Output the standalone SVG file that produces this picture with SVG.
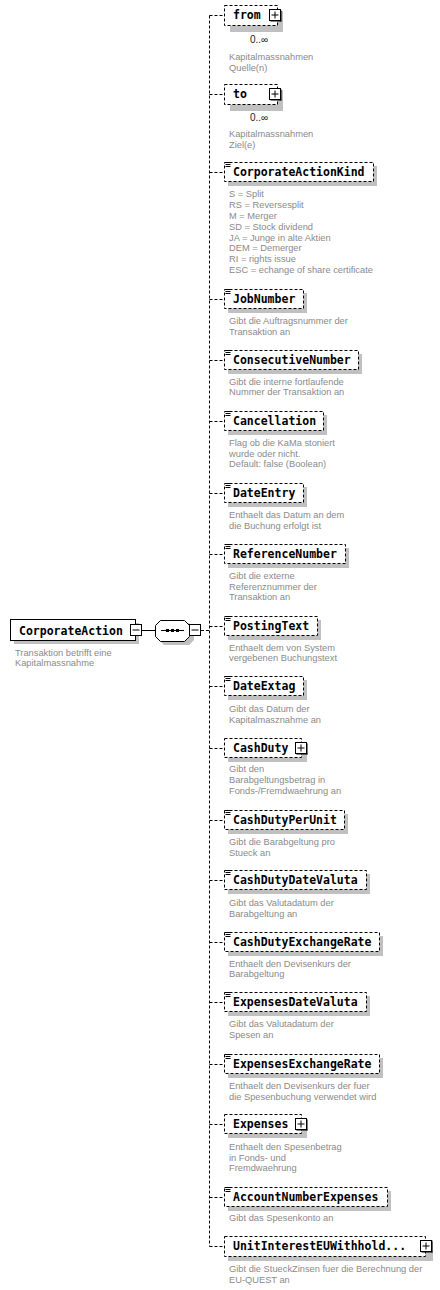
<svg xmlns="http://www.w3.org/2000/svg" width="440" height="1290" viewBox="0 0 440 1290">
<style>
.bg{fill:#ffffff}
.box{fill:#ffffff;stroke:#000;stroke-width:1;stroke-dasharray:3,2}
.sbox{fill:#ffffff;stroke:#000;stroke-width:1}
.sh{fill:#c0c0c0}
.name{font-family:"DejaVu Sans Mono",monospace;font-weight:bold;font-size:11.5px;fill:#000}
.desc{font-family:"Liberation Sans",Arial,sans-serif;font-size:9.3px;fill:#8a8a8a}
.mult{font-family:"Liberation Sans",Arial,sans-serif;font-size:10px;fill:#222}
.conn{fill:none;stroke:#000;stroke-width:1;stroke-dasharray:3,2}
.solid{fill:none;stroke:#000;stroke-width:1}
.ic{stroke:#000;stroke-width:1}
.pb{fill:#fff;stroke:#000;stroke-width:1}
</style>
<defs>
<g id="icon"><path class="ic" d="M1.5,1.5h6M1.5,3.5h5M1.5,5.5h5"/></g>
<g id="plus"><rect class="pb" x="0.5" y="0.5" width="11" height="11"/><path class="ic" d="M12,1.5v11M1.5,12h11" /><path class="ic" d="M2.5,6h7M6,2.5v7"/></g>
<g id="minus"><rect class="pb" x="0.5" y="0.5" width="11" height="11"/><path class="ic" d="M2.5,6h7"/></g>
</defs>
<rect class="bg" x="0" y="0" width="440" height="1290"/>

<g id="connectors">
<path class="solid" d="M142,630.5H155M190,630.5"/>
<path class="conn" d="M201,630.5H209.5"/>
<path class="conn" d="M209.5,15.5V1246.5"/>
<path class="conn" d="M209.5,15.5H224M209.5,94.5H224M209.5,172.5H224M209.5,299.5H224M209.5,360.5H224M209.5,421.5H224M209.5,493.5H224M209.5,554.5H224M209.5,626.5H224M209.5,686.5H224M209.5,748.5H224M209.5,820.5H224M209.5,880.5H224M209.5,942.5H224M209.5,1002.5H224M209.5,1064.5H224M209.5,1124.5H224M209.5,1197.5H224M209.5,1246.5H224"/>
</g>

<g id="CorporateAction">
<rect class="sh" x="14" y="623" width="125" height="21"/>
<rect class="sbox" x="10.5" y="619.5" width="125" height="21"/>
<text class="name" x="19" y="635">CorporateAction</text>
<use href="#minus" x="130" y="624"/>
<text class="desc" x="15" y="656">Transaktion betrifft eine</text>
<text class="desc" x="15" y="666">Kapitalmassnahme</text>
</g>

<g id="sequence">
<path class="sh" d="M164,623H189L194,628V640L189,645H164L159,640V628Z"/>
<path class="sbox" d="M160.5,620.5H184.5L189.5,625.5V636.5L184.5,641.5H160.5L155.5,636.5V625.5Z"/>
<path class="solid" d="M161,630.5H184"/>
<rect x="166" y="629" width="3" height="3" fill="#000"/>
<rect x="171" y="629" width="3" height="3" fill="#000"/>
<rect x="176" y="629" width="3" height="3" fill="#000"/>
<use href="#minus" x="189" y="624"/>
</g>

<g id="from">
<rect class="sh" x="230" y="11" width="53" height="21"/>
<rect class="box" x="224.5" y="5.5" width="53" height="20"/>
<text class="name" x="233" y="19">from</text>
<use href="#plus" x="269" y="9"/>
<text class="mult" x="250" y="43">0..∞</text>
<text class="desc" x="229" y="60">Kapitalmassnahmen</text>
<text class="desc" x="229" y="71">Quelle(n)</text>
</g>

<g id="to">
<rect class="sh" x="230" y="90" width="53" height="21"/>
<rect class="box" x="224.5" y="84.5" width="53" height="20"/>
<text class="name" x="233" y="98">to</text>
<use href="#plus" x="269" y="88"/>
<text class="mult" x="250" y="121">0..∞</text>
<text class="desc" x="229" y="137">Kapitalmassnahmen</text>
<text class="desc" x="229" y="148">Ziel(e)</text>
</g>

<g id="CorporateActionKind">
<rect class="sh" x="228" y="166" width="149" height="20"/>
<rect class="box" x="224.5" y="162.5" width="149" height="19"/>
<use href="#icon" x="224" y="161"/>
<text class="name" x="233" y="176">CorporateActionKind</text>
<text class="desc" x="229" y="197">S = Split</text>
<text class="desc" x="229" y="208">RS = Reversesplit</text>
<text class="desc" x="229" y="219">M = Merger</text>
<text class="desc" x="229" y="230">SD = Stock dividend</text>
<text class="desc" x="229" y="241">JA = Junge in alte Aktien</text>
<text class="desc" x="229" y="251">DEM = Demerger</text>
<text class="desc" x="229" y="262">RI = rights issue</text>
<text class="desc" x="229" y="273">ESC = echange of share certificate</text>
</g>

<g id="JobNumber">
<rect class="sh" x="228" y="293" width="79" height="20"/>
<rect class="box" x="224.5" y="289.5" width="79" height="19"/>
<use href="#icon" x="224" y="288"/>
<text class="name" x="233" y="303">JobNumber</text>
<text class="desc" x="229" y="324">Gibt die Auftragsnummer der</text>
<text class="desc" x="229" y="335">Transaktion an</text>
</g>

<g id="ConsecutiveNumber">
<rect class="sh" x="228" y="354" width="134" height="20"/>
<rect class="box" x="224.5" y="350.5" width="134" height="19"/>
<use href="#icon" x="224" y="349"/>
<text class="name" x="233" y="364">ConsecutiveNumber</text>
<text class="desc" x="229" y="385">Gibt die interne fortlaufende</text>
<text class="desc" x="229" y="395">Nummer der Transaktion an</text>
</g>

<g id="Cancellation">
<rect class="sh" x="228" y="415" width="99" height="20"/>
<rect class="box" x="224.5" y="411.5" width="99" height="19"/>
<use href="#icon" x="224" y="410"/>
<text class="name" x="233" y="425">Cancellation</text>
<text class="desc" x="229" y="446">Flag ob die KaMa stoniert</text>
<text class="desc" x="229" y="457">wurde oder nicht.</text>
<text class="desc" x="229" y="467">Default: false (Boolean)</text>
</g>

<g id="DateEntry">
<rect class="sh" x="228" y="487" width="79" height="20"/>
<rect class="box" x="224.5" y="483.5" width="79" height="19"/>
<use href="#icon" x="224" y="482"/>
<text class="name" x="233" y="497">DateEntry</text>
<text class="desc" x="229" y="518">Enthaelt das Datum an dem</text>
<text class="desc" x="229" y="529">die Buchung erfolgt ist</text>
</g>

<g id="ReferenceNumber">
<rect class="sh" x="228" y="548" width="121" height="20"/>
<rect class="box" x="224.5" y="544.5" width="121" height="19"/>
<use href="#icon" x="224" y="543"/>
<text class="name" x="233" y="558">ReferenceNumber</text>
<text class="desc" x="229" y="579">Gibt die externe</text>
<text class="desc" x="229" y="590">Referenznummer der</text>
<text class="desc" x="229" y="600">Transaktion an</text>
</g>

<g id="PostingText">
<rect class="sh" x="228" y="620" width="93" height="20"/>
<rect class="box" x="224.5" y="616.5" width="93" height="19"/>
<use href="#icon" x="224" y="615"/>
<text class="name" x="233" y="630">PostingText</text>
<text class="desc" x="229" y="651">Enthaelt dem von System</text>
<text class="desc" x="229" y="661">vergebenen Buchungstext</text>
</g>

<g id="DateExtag">
<rect class="sh" x="228" y="680" width="79" height="20"/>
<rect class="box" x="224.5" y="676.5" width="79" height="19"/>
<use href="#icon" x="224" y="675"/>
<text class="name" x="233" y="690">DateExtag</text>
<text class="desc" x="229" y="712">Gibt das Datum der</text>
<text class="desc" x="229" y="723">Kapitalmasznahme an</text>
</g>

<g id="CashDuty">
<rect class="sh" x="228" y="742" width="79" height="20"/>
<rect class="box" x="224.5" y="738.5" width="77" height="19"/>
<text class="name" x="233" y="752">CashDuty</text>
<use href="#plus" x="295" y="742"/>
<text class="desc" x="229" y="772">Gibt den</text>
<text class="desc" x="229" y="783">Barabgeltungsbetrag in</text>
<text class="desc" x="229" y="794">Fonds-/Fremdwaehrung an</text>
</g>

<g id="CashDutyPerUnit">
<rect class="sh" x="228" y="814" width="120" height="20"/>
<rect class="box" x="224.5" y="810.5" width="120" height="19"/>
<use href="#icon" x="224" y="809"/>
<text class="name" x="233" y="824">CashDutyPerUnit</text>
<text class="desc" x="229" y="845">Gibt die Barabgeltung pro</text>
<text class="desc" x="229" y="856">Stueck an</text>
</g>

<g id="CashDutyDateValuta">
<rect class="sh" x="228" y="874" width="142" height="20"/>
<rect class="box" x="224.5" y="870.5" width="142" height="19"/>
<use href="#icon" x="224" y="869"/>
<text class="name" x="233" y="884">CashDutyDateValuta</text>
<text class="desc" x="229" y="906">Gibt das Valutadatum der</text>
<text class="desc" x="229" y="917">Barabgeltung an</text>
</g>

<g id="CashDutyExchangeRate">
<rect class="sh" x="228" y="936" width="155" height="20"/>
<rect class="box" x="224.5" y="932.5" width="155" height="19"/>
<use href="#icon" x="224" y="931"/>
<text class="name" x="233" y="946">CashDutyExchangeRate</text>
<text class="desc" x="229" y="967">Enthaelt den Devisenkurs der</text>
<text class="desc" x="229" y="977">Barabgeltung</text>
</g>

<g id="ExpensesDateValuta">
<rect class="sh" x="228" y="996" width="142" height="20"/>
<rect class="box" x="224.5" y="992.5" width="142" height="19"/>
<use href="#icon" x="224" y="991"/>
<text class="name" x="233" y="1006">ExpensesDateValuta</text>
<text class="desc" x="229" y="1027">Gibt das Valutadatum der</text>
<text class="desc" x="229" y="1038">Spesen an</text>
</g>

<g id="ExpensesExchangeRate">
<rect class="sh" x="228" y="1058" width="155" height="20"/>
<rect class="box" x="224.5" y="1054.5" width="155" height="19"/>
<use href="#icon" x="224" y="1053"/>
<text class="name" x="233" y="1068">ExpensesExchangeRate</text>
<text class="desc" x="229" y="1089">Enthaelt den Devisenkurs der fuer</text>
<text class="desc" x="229" y="1100">die Spesenbuchung verwendet wird</text>
</g>

<g id="Expenses">
<rect class="sh" x="228" y="1118" width="79" height="20"/>
<rect class="box" x="224.5" y="1114.5" width="77" height="19"/>
<text class="name" x="233" y="1128">Expenses</text>
<use href="#plus" x="295" y="1118"/>
<text class="desc" x="229" y="1150">Enthaelt den Spesenbetrag</text>
<text class="desc" x="229" y="1161">in Fonds- und</text>
<text class="desc" x="229" y="1171">Fremdwaehrung</text>
</g>

<g id="AccountNumberExpenses">
<rect class="sh" x="228" y="1191" width="163" height="20"/>
<rect class="box" x="224.5" y="1187.5" width="163" height="19"/>
<use href="#icon" x="224" y="1186"/>
<text class="name" x="233" y="1201">AccountNumberExpenses</text>
<text class="desc" x="229" y="1221">Gibt das Spesenkonto an</text>
</g>

<g id="UnitInterestEUWithhold">
<rect class="sh" x="228" y="1240" width="205" height="21"/>
<rect class="box" x="224.5" y="1236.5" width="201" height="20"/>
<text class="name" x="233" y="1250">UnitInterestEUWithhold...</text>
<use href="#plus" x="420" y="1240"/>
<text class="desc" x="229" y="1272">Gibt die StueckZinsen fuer die Berechnung der</text>
<text class="desc" x="229" y="1283">EU-QUEST an</text>
</g>
</svg>
